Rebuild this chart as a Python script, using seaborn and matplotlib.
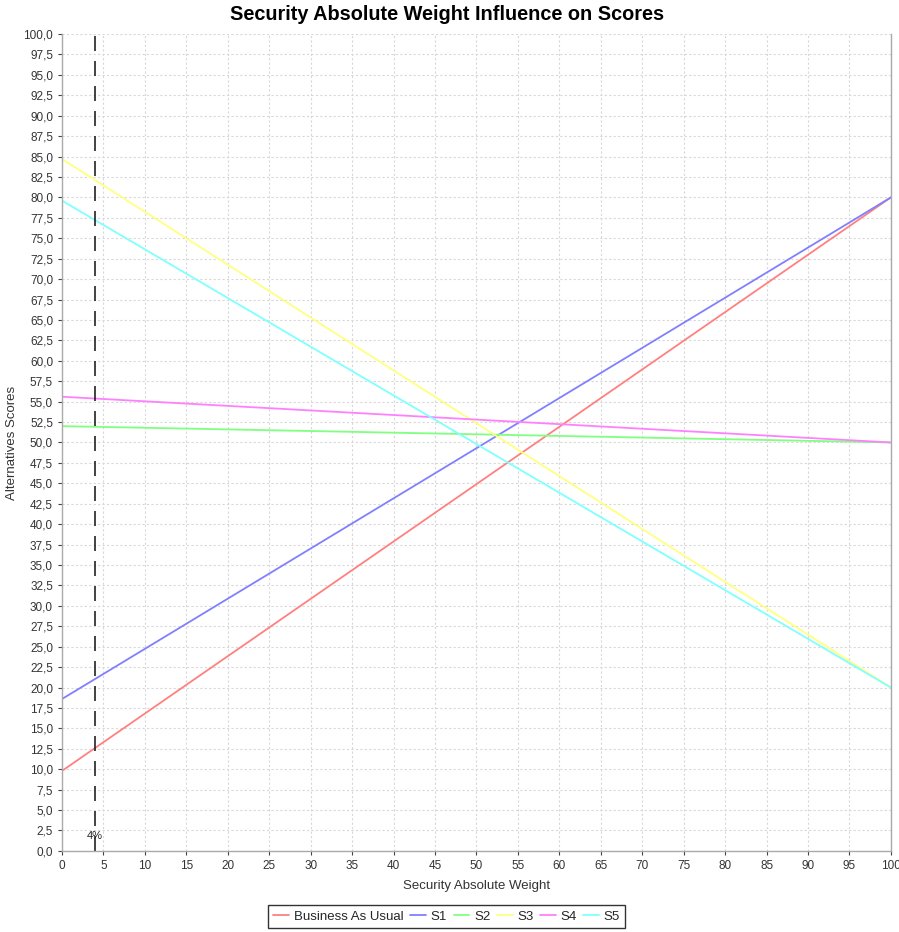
import matplotlib
matplotlib.use("Agg")
import matplotlib.pyplot as plt
from matplotlib.ticker import FuncFormatter, MultipleLocator
import seaborn as sns
import pandas as pd

# Scores of each alternative at the ends of the weight range
weights = [0, 100]
series_names = ["Business As Usual", "S1", "S2", "S3", "S4", "S5"]
business_as_usual = [9.8, 80.0]
s1 = [18.6, 80.0]
s2 = [52.0, 50.0]
s3 = [84.7, 20.0]
s4 = [55.6, 50.0]
s5 = [79.6, 20.0]
current_weight = 4
current_label = "4%"

colors = ["#FF8080", "#8080FF", "#80FF80", "#FFFF80", "#FF80FF", "#80FFFF"]

rows = []
for name, vals in zip(series_names,
                      [business_as_usual, s1, s2, s3, s4, s5]):
    for w, v in zip(weights, vals):
        rows.append({"weight": w, "score": v, "series": name})
df = pd.DataFrame(rows)

sns.set_style("white")
plt.rcParams["font.family"] = ["Liberation Sans", "DejaVu Sans"]

fig = plt.figure(figsize=(8.99, 9.32), dpi=100)
ax = fig.add_axes([0.069, 0.087, 0.922, 0.8765])

sns.lineplot(data=df, x="weight", y="score", hue="series",
             hue_order=series_names, palette=colors, linewidth=1.3,
             ax=ax, legend=True)

ax.axvline(current_weight, color="#222222", linestyle=(0, (9, 6)),
           linewidth=1.2)
ax.text(current_weight, 1.2, current_label, ha="center", va="bottom",
        fontsize=8, color="#222222")

ax.set_xlim(0, 100)
ax.set_ylim(0, 100)
ax.xaxis.set_major_locator(MultipleLocator(5))
ax.yaxis.set_major_locator(MultipleLocator(2.5))
ax.yaxis.set_major_formatter(FuncFormatter(lambda v, p: f"{v:.1f}".replace(".", ",")))
ax.xaxis.set_major_formatter(FuncFormatter(lambda v, p: f"{v:.0f}"))
ax.tick_params(axis="both", labelsize=8.5, colors="#444444",
               length=3, width=0.8, direction="out", bottom=True, left=True,
               labelcolor="#333333")
ax.grid(True, color="#d8d8d8", linestyle=(0, (2, 2)), linewidth=0.8)
for side in ["left", "bottom", "right", "top"]:
    ax.spines[side].set_color("#aaaaaa")
    ax.spines[side].set_linewidth(1)
ax.spines["top"].set_visible(False)

ax.set_xlabel("Security Absolute Weight", fontsize=9.5, color="#333333", labelpad=6)
ax.set_ylabel("Alternatives Scores", fontsize=9.5, color="#333333", labelpad=4)
fig.suptitle("Security Absolute Weight Influence on Scores", x=0.497, y=0.995,
             fontsize=14.3, fontweight="bold", color="black")

handles, labels = ax.get_legend_handles_labels()
fig.legend(handles, labels, loc="lower center", bbox_to_anchor=(0.497, 0.004),
           ncol=6, frameon=True, fancybox=False, edgecolor="black",
           fontsize=9.5, handlelength=1.2, columnspacing=0.5,
           handletextpad=0.35, borderpad=0.4, borderaxespad=0)
ax.get_legend().remove()

fig.savefig("out.png", dpi=100)
